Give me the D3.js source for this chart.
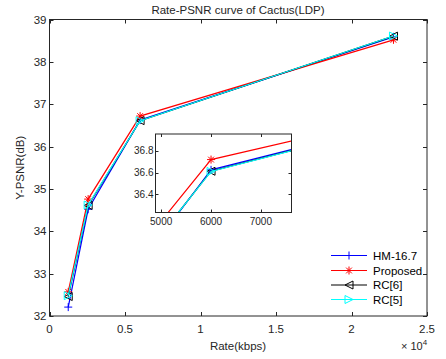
<!DOCTYPE html>
<html><head><meta charset="utf-8">
<script src="https://cdn.jsdelivr.net/npm/d3@7"></script>
<style>body{margin:0;background:#fff}svg{display:block;font-family:"Liberation Sans",Arial,sans-serif}</style>
</head><body><svg id="c" width="446" height="359"></svg>
<script>
const rates = [1240, 2560, 6000, 22780];
const hm = [32.21, 34.52, 36.625, 38.59];
const proposed = [32.57, 34.76, 36.72, 38.52];
const rc6 = [32.46, 34.61, 36.612, 38.607];
const rc5 = [32.48, 34.62, 36.61, 38.61];
const seriesNames = ["HM-16.7", "Proposed", "RC[6]", "RC[5]"];
const xTicks = [0, 5000, 10000, 15000, 20000, 25000];
const xTickLabels = ["0", "0.5", "1", "1.5", "2", "2.5"];
const yTicks = [32, 33, 34, 35, 36, 37, 38, 39];
const insetXTicks = [5000, 6000, 7000];
const insetYTicks = [36.4, 36.6, 36.8];

const series = [
  {name: seriesNames[0], vals: hm, color: "#0000ff", marker: "plus"},
  {name: seriesNames[1], vals: proposed, color: "#ff0000", marker: "star"},
  {name: seriesNames[2], vals: rc6, color: "#000000", marker: "triL"},
  {name: seriesNames[3], vals: rc5, color: "#00ffff", marker: "triR"}
];

const svg = d3.select("#c");
const L = 49.5, R = 427, T = 19.5, B = 316;
const x = d3.scaleLinear().domain([0, 25000]).range([L, R]);
const y = d3.scaleLinear().domain([32, 39]).range([B, T]);

function drawMarker(g, type, cx, cy, color, s) {
  s = s || 4;
  if (type === "plus") {
    g.append("path").attr("d", `M${cx-s},${cy}H${cx+s}M${cx},${cy-s}V${cy+s}`)
      .attr("stroke", color).attr("stroke-width", 1).attr("fill", "none");
  } else if (type === "star") {
    const d = s * 0.72;
    g.append("path").attr("d", `M${cx-s},${cy}H${cx+s}M${cx},${cy-s}V${cy+s}M${cx-d},${cy-d}L${cx+d},${cy+d}M${cx-d},${cy+d}L${cx+d},${cy-d}`)
      .attr("stroke", color).attr("stroke-width", 1).attr("fill", "none");
  } else if (type === "triL") {
    g.append("path").attr("d", `M${cx-s},${cy}L${cx+s},${cy-s}L${cx+s},${cy+s}Z`)
      .attr("stroke", color).attr("stroke-width", 1).attr("fill", "none");
  } else if (type === "triR") {
    g.append("path").attr("d", `M${cx+s},${cy}L${cx-s},${cy-s}L${cx-s},${cy+s}Z`)
      .attr("stroke", color).attr("stroke-width", 1).attr("fill", "none");
  }
}

function drawSeries(g, xs, ys) {
  series.forEach(s => {
    const line = d3.line().x((d, i) => xs(rates[i])).y(d => ys(d));
    g.append("path").datum(s.vals).attr("d", line)
      .attr("fill", "none").attr("stroke", s.color).attr("stroke-width", 1.2);
    s.vals.forEach((v, i) => drawMarker(g, s.marker, xs(rates[i]), ys(v), s.color, 4));
  });
}

svg.append("rect").attr("x", L).attr("y", T).attr("width", R - L).attr("height", B - T).attr("fill", "#fff");

const tk = svg.append("g").attr("stroke", "#262626").attr("stroke-width", 1);
xTicks.forEach(t => {
  const px = Math.round(x(t)) + 0.5;
  tk.append("line").attr("x1", px).attr("x2", px).attr("y1", B).attr("y2", B - 4);
  tk.append("line").attr("x1", px).attr("x2", px).attr("y1", T).attr("y2", T + 4);
});
yTicks.forEach(t => {
  const py = Math.round(y(t)) + 0.5;
  tk.append("line").attr("x1", L).attr("x2", L + 4).attr("y1", py).attr("y2", py);
  tk.append("line").attr("x1", R).attr("x2", R - 4).attr("y1", py).attr("y2", py);
});

const mainG = svg.append("g");
drawSeries(mainG, x, y);

svg.append("rect").attr("x", L).attr("y", T).attr("width", R - L).attr("height", B - T)
  .attr("fill", "none").attr("stroke", "#262626").attr("stroke-width", 1);

xTicks.forEach((t, i) => {
  svg.append("text").attr("x", x(t)).attr("y", 333).attr("text-anchor", "middle")
    .attr("font-size", 11.5).attr("fill", "#262626").text(xTickLabels[i]);
});
yTicks.forEach(t => {
  svg.append("text").attr("x", L - 3).attr("y", y(t) + 4).attr("text-anchor", "end")
    .attr("font-size", 11.5).attr("fill", "#262626").text(t);
});

svg.append("text").attr("x", 238).attr("y", 14).attr("text-anchor", "middle")
  .attr("font-size", 11.5).attr("fill", "#262626").text("Rate-PSNR curve of Cactus(LDP)");
svg.append("text").attr("x", 238).attr("y", 350).attr("text-anchor", "middle")
  .attr("font-size", 11.5).attr("fill", "#262626").text("Rate(kbps)");
svg.append("text").attr("transform", `translate(24,${(T + B) / 2}) rotate(-90)`).attr("text-anchor", "middle")
  .attr("font-size", 11.5).attr("fill", "#262626").text("Y-PSNR(dB)");
const ex = svg.append("text").attr("x", 401).attr("y", 350).attr("font-size", 11).attr("fill", "#262626");
ex.append("tspan").text("× 10");
ex.append("tspan").attr("dy", -5).attr("font-size", 8).text("4");

const lg = svg.append("g");
const legY = [255.5, 270.5, 285, 299.5];
series.forEach((s, i) => {
  lg.append("line").attr("x1", 331).attr("x2", 367).attr("y1", legY[i]).attr("y2", legY[i])
    .attr("stroke", s.color).attr("stroke-width", 1.2);
  drawMarker(lg, s.marker, 349, legY[i], s.color, 4);
  lg.append("text").attr("x", 373).attr("y", legY[i] + 4).attr("font-size", 11.5).attr("fill", "#000").text(s.name);
});

const iL = 155.5, iR = 291.5, iT = 134, iB = 212.5;
const ix = d3.scaleLinear().domain([4886, 7614]).range([iL, iR]);
const iy = d3.scaleLinear().domain([36.23, 36.957]).range([iB, iT]);
svg.append("rect").attr("x", iL).attr("y", iT).attr("width", iR - iL).attr("height", iB - iT).attr("fill", "#fff");
svg.append("defs").append("clipPath").attr("id", "ic").append("rect")
  .attr("x", iL).attr("y", iT).attr("width", iR - iL).attr("height", iB - iT);
const itk = svg.append("g").attr("stroke", "#262626").attr("stroke-width", 1);
insetXTicks.forEach(t => {
  const px = Math.round(ix(t)) + 0.5;
  itk.append("line").attr("x1", px).attr("x2", px).attr("y1", iB).attr("y2", iB - 3);
  itk.append("line").attr("x1", px).attr("x2", px).attr("y1", iT).attr("y2", iT + 3);
});
insetYTicks.forEach(t => {
  const py = Math.round(iy(t)) + 0.5;
  itk.append("line").attr("x1", iL).attr("x2", iL + 3).attr("y1", py).attr("y2", py);
  itk.append("line").attr("x1", iR).attr("x2", iR - 3).attr("y1", py).attr("y2", py);
});
const inG = svg.append("g").attr("clip-path", "url(#ic)");
drawSeries(inG, ix, iy);
svg.append("rect").attr("x", iL).attr("y", iT).attr("width", iR - iL).attr("height", iB - iT)
  .attr("fill", "none").attr("stroke", "#262626").attr("stroke-width", 1);
insetXTicks.forEach(t => {
  svg.append("text").attr("x", ix(t)).attr("y", 225).attr("text-anchor", "middle")
    .attr("font-size", 10).attr("fill", "#262626").text(t);
});
insetYTicks.forEach(t => {
  svg.append("text").attr("x", iL - 2).attr("y", iy(t) + 3.5).attr("text-anchor", "end")
    .attr("font-size", 10).attr("fill", "#262626").text(t.toFixed(1));
});
</script></body></html>
